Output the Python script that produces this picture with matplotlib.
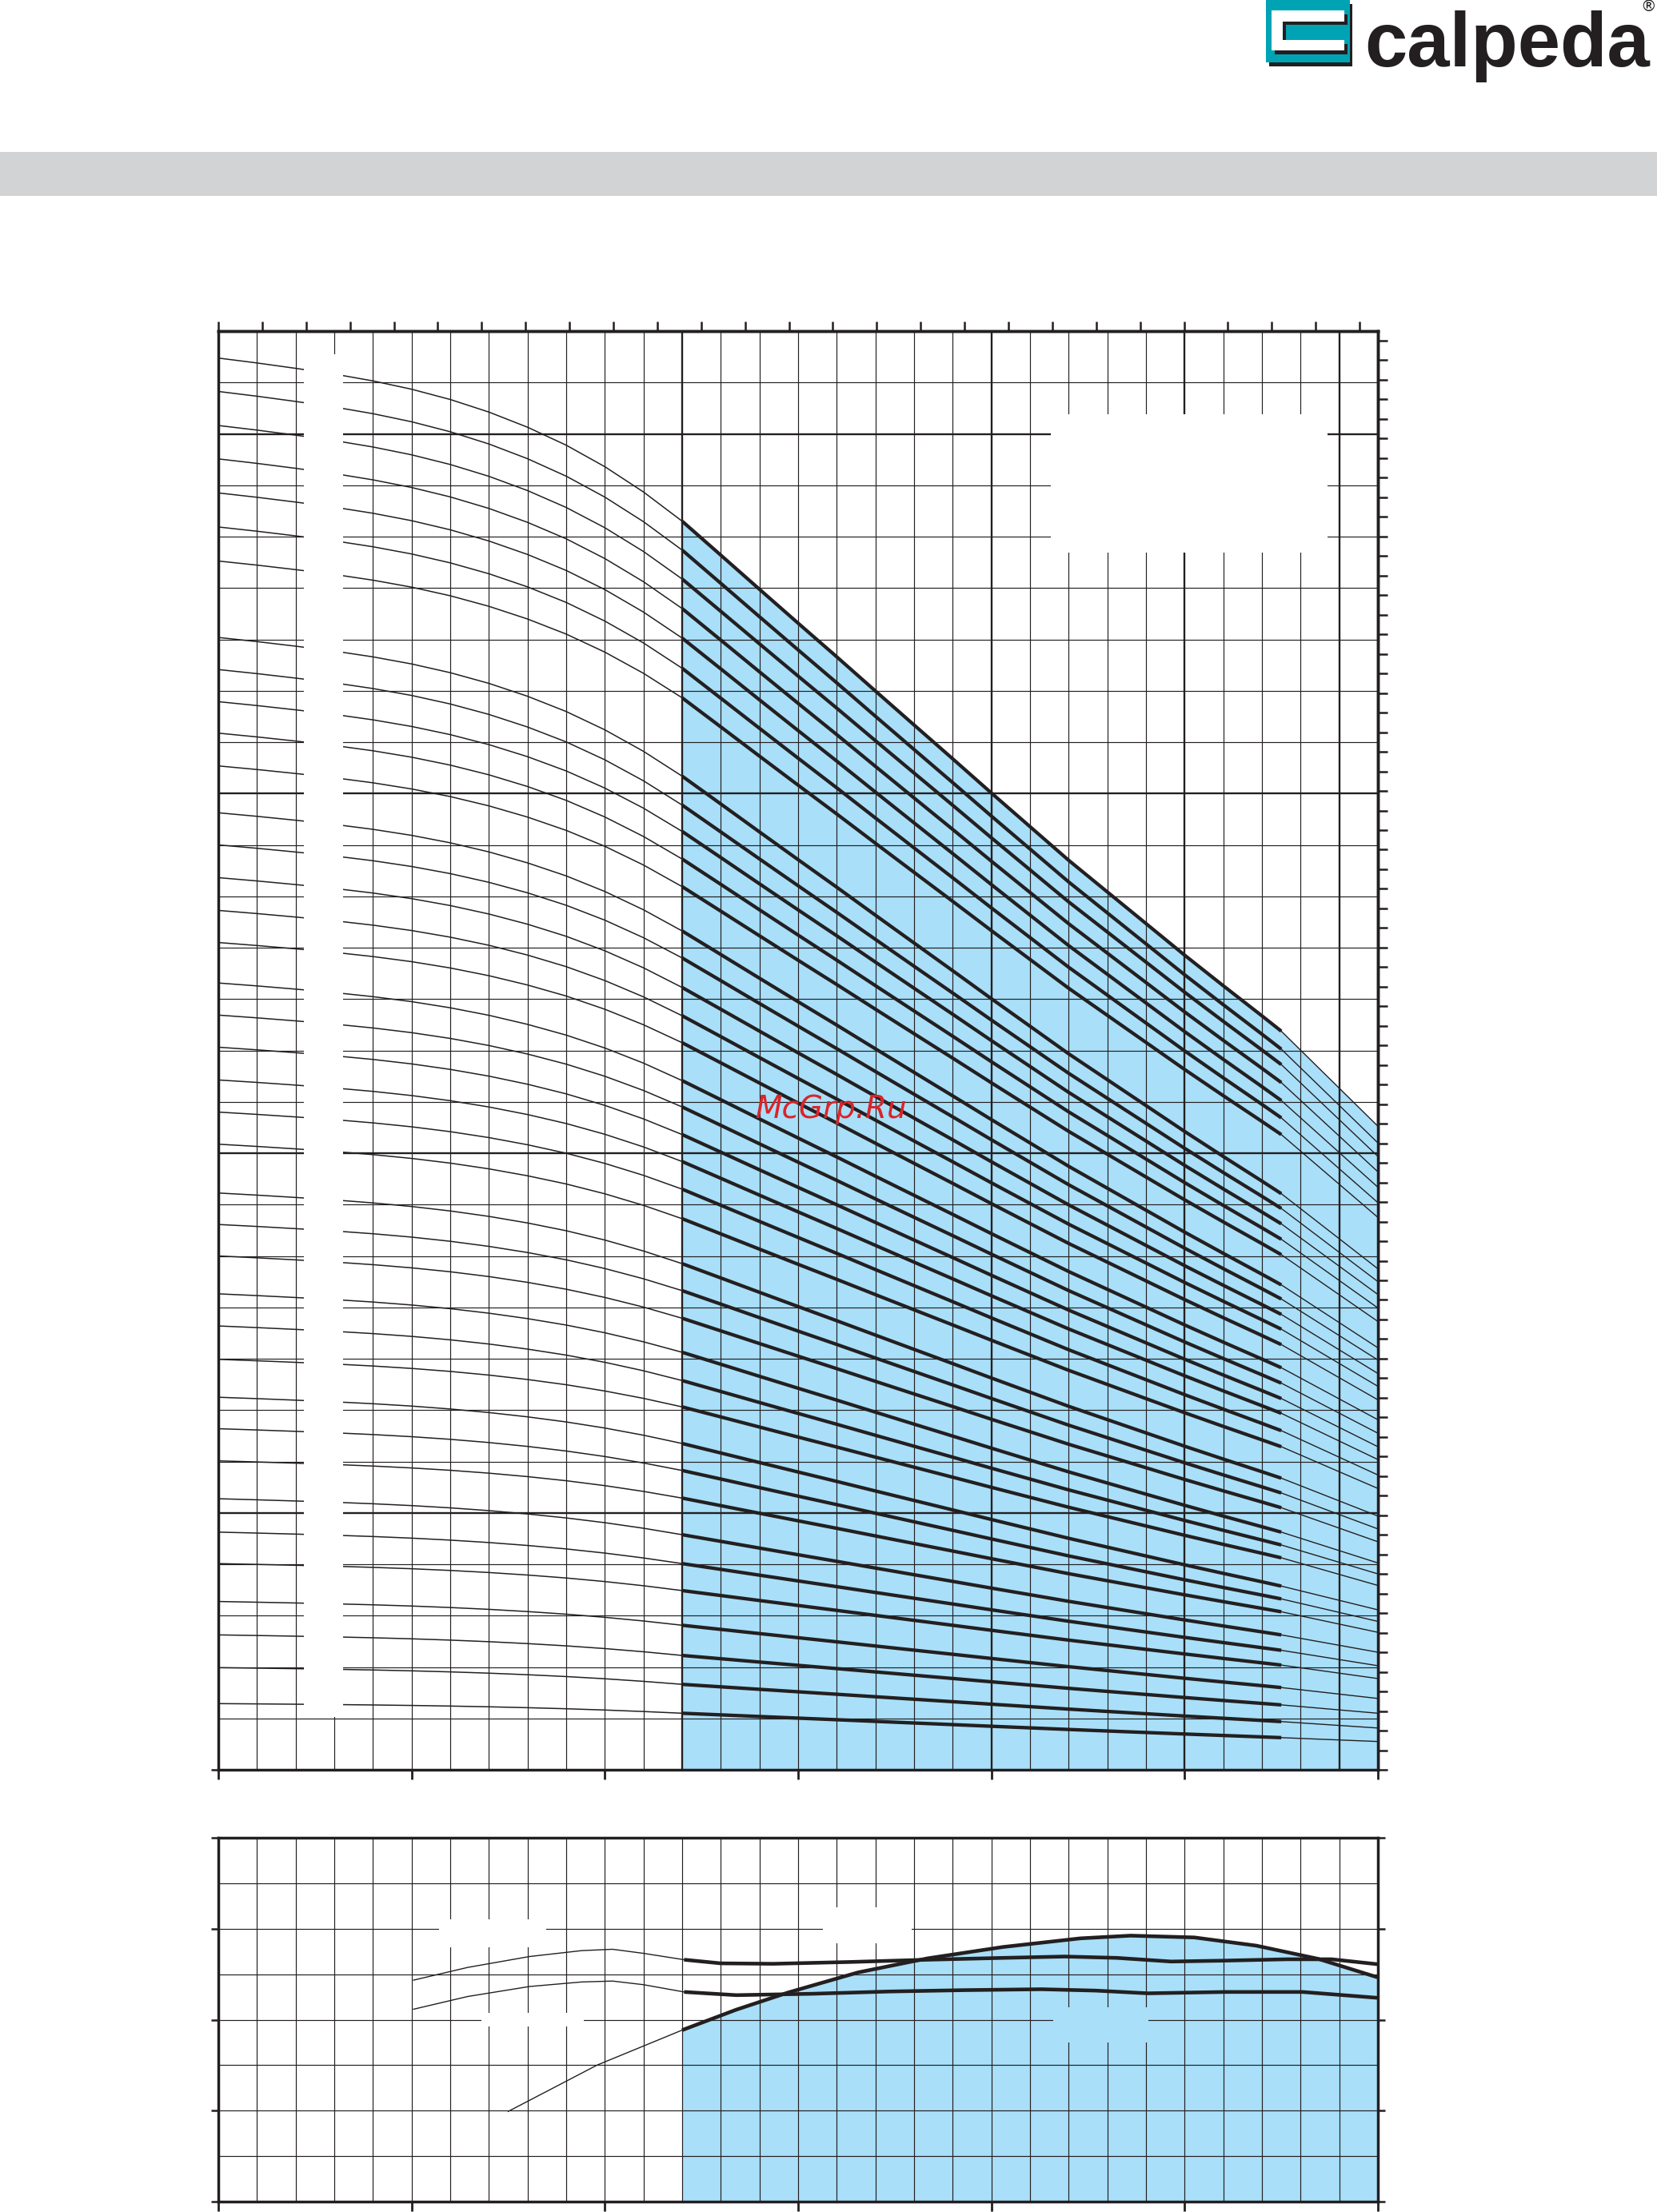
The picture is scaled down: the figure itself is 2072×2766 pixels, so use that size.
import numpy as np
import matplotlib
matplotlib.use("Agg")
import matplotlib.pyplot as plt
from matplotlib.patches import Rectangle, Polygon
from matplotlib import font_manager

# --- Colori ---
INK = "#231f20"
BLUE = "#a9dff8"
GRAY = "#d2d3d5"
TEAL = "#00a3b4"
RED = "#dc2328"

# --- Curve H-Q (portata m3/h, prevalenza m) ---
# forma normalizzata del tratto sinistro (da H a Q=0 fino a H a Q=2.4)
Q_LEFT = [0.0, 0.2, 0.4, 0.6, 0.8, 1.0, 1.2, 1.4, 1.6, 1.8, 2.0, 2.2, 2.4]
F_LEFT = [0.0, 0.030, 0.063, 0.098, 0.140, 0.191, 0.254, 0.331, 0.424, 0.534, 0.666, 0.821, 1.0]
# forma normalizzata del tratto di lavoro (da Q=2.4 a Q=5.5)
Q_MID = [2.4, 2.6, 2.8, 3.0, 3.2, 3.4, 3.6, 3.8, 4.0, 4.2, 4.4, 4.6, 4.8, 5.0, 5.2, 5.4, 5.5]
F_MID = [0.0, 0.0666, 0.1335, 0.2, 0.266, 0.333, 0.3996, 0.466, 0.533, 0.599, 0.665,
         0.727, 0.789, 0.851, 0.911, 0.970, 1.0]
Q_TAIL = [5.5, 6.0]

# prevalenza di ogni curva a Q = 0, 2.4, 5.5, 6.0
H_Q0 = [219.8, 214.6, 209.3, 204.1, 198.8, 193.5, 188.2,
        176.3, 171.3, 166.3, 161.4, 156.3,
        149.0, 144.0, 138.9, 133.8, 128.8,
        122.5, 117.5, 112.5, 107.4, 102.4, 97.4,
        89.8, 84.9, 80.0,
        74.1, 69.1, 63.9,
        58.0, 53.1, 48.1,
        42.2, 37.0, 32.1,
        26.2, 21.0, 15.9, 10.3]
H_Q24 = [194.4, 189.9, 185.4, 180.8, 176.2, 171.5, 166.9,
         154.7, 150.2, 146.1, 141.8, 137.5,
         130.6, 126.4, 121.8, 117.4, 113.2,
         107.3, 103.2, 98.9, 94.7, 90.4, 85.8,
         78.8, 74.6, 70.3,
         65.0, 60.6, 56.5,
         50.8, 46.6, 42.3,
         36.6, 32.1, 27.9,
         22.5, 17.8, 13.3, 8.8]
H_Q55 = [115.0, 112.2, 109.8, 107.0, 104.2, 101.5, 98.9,
         89.7, 87.4, 85.0, 82.6, 80.2,
         75.5, 73.3, 70.9, 68.6, 66.2,
         62.6, 60.2, 57.8, 55.5, 52.8, 50.3,
         45.4, 43.1, 40.8,
         37.0, 35.0, 33.0,
         28.6, 26.6, 24.6,
         21.0, 18.6, 16.3,
         12.8, 10.1, 7.5, 5.0]
H_Q60 = [100.2, 97.6, 95.5, 93.1, 90.7, 88.3, 86.0,
         78.0, 76.0, 74.0, 71.9, 69.8,
         65.7, 63.8, 61.7, 59.7, 57.6,
         54.5, 52.4, 50.3, 48.3, 45.9, 43.8,
         39.5, 37.5, 35.5,
         32.2, 30.5, 28.7,
         24.9, 23.1, 21.4,
         18.3, 16.2, 14.2,
         11.1, 8.8, 6.5, 4.4]

# --- Curve inferiori (rendimento e potenza, scala 0-80) ---
ETA_Q = [1.5, 1.96, 2.4, 2.68, 2.95, 3.31, 3.67, 4.06, 4.46, 4.72, 5.05, 5.37, 5.69, 6.0]
ETA = [19.8, 30.0, 37.7, 42.2, 46.0, 50.4, 53.5, 56.0, 57.9, 58.5, 58.1, 56.3, 53.4, 49.3]
P1_Q = [1.01, 1.29, 1.61, 1.88, 2.04, 2.2, 2.41, 2.6, 2.87, 3.27, 3.67, 4.06, 4.38, 4.65,
        4.93, 5.21, 5.53, 5.76, 6.0]
P1 = [48.7, 51.5, 53.9, 55.2, 55.5, 54.6, 53.2, 52.4, 52.3, 52.7, 53.2, 53.6, 53.9, 53.6,
      52.8, 53.0, 53.3, 53.3, 52.2]
P2_Q = [1.01, 1.29, 1.61, 1.88, 2.04, 2.2, 2.41, 2.68, 3.07, 3.47, 3.86, 4.26, 4.54, 4.81,
        5.21, 5.61, 6.0]
P2 = [42.3, 45.1, 47.3, 48.3, 48.5, 47.7, 46.1, 45.4, 45.7, 46.2, 46.5, 46.7, 46.4, 45.8,
      46.1, 46.1, 44.8]

W, H = 2072, 2766
fig = plt.figure(figsize=(W / 100, H / 100), dpi=100)
fig.patch.set_facecolor("white")

# --- fondo: banda grigia e logo (coordinate in pixel) ---
ov = fig.add_axes([0, 0, 1, 1], zorder=-1)
ov.set_xlim(0, W)
ov.set_ylim(H, 0)
ov.axis("off")
ov.add_patch(Rectangle((0, 190.4), W, 54.7, fc=GRAY, ec="none"))
ov.add_patch(Rectangle((1587, 4.5), 104, 78.5, fc=INK, ec="none"))
ov.add_patch(Rectangle((1583, 0), 105, 78, fc=TEAL, ec="none"))
c_shape = [(1590, 13.3), (1680.7, 13.3), (1680.7, 26.7), (1604.3, 26.7),
           (1604.3, 50), (1680.7, 50), (1680.7, 63.3), (1590, 63.3)]
ov.add_patch(Polygon([(x + 4, y + 4.5) for x, y in c_shape], closed=True, fc=INK, ec="none"))
ov.add_patch(Polygon(c_shape, closed=True, fc="white", ec="none"))
try:
    font_manager.findfont("Liberation Sans Narrow", fallback_to_default=False)
    logo_font, logo_size = "Liberation Sans Narrow", 80
except ValueError:
    logo_font, logo_size = "Liberation Sans", 69
ov.text(1706, 82.7, "calpeda", family=logo_font, fontsize=logo_size, weight="bold",
        color=INK, ha="left", va="baseline")
ov.text(2061, 8, "\u00ae", family="DejaVu Sans", fontsize=14, color=INK,
        ha="center", va="center")


def style_spines(a):
    for s in a.spines.values():
        s.set_linewidth(2.5)
        s.set_color(INK)
        s.set_zorder(10)


# --- grafico principale H-Q ---
ax = fig.add_axes([273 / W, 1 - 2213 / H, 1450 / W, 1799 / H])
ax.set_xlim(0, 6)
ax.set_ylim(0, 224)

for k in range(1, 30):
    thick = k in (12, 20, 25, 29)
    ax.axvline(0.2 * k, color=INK, lw=1.7 if thick else 0.85, zorder=2)
for j in range(1, 28):
    thick = j in (5, 12, 19, 26)
    ax.axhline(8 * j, color=INK, lw=1.7 if thick else 0.85, zorder=2)

f_left = np.array(F_LEFT)
f_mid = np.array(F_MID)
top_mid = H_Q24[0] + (H_Q55[0] - H_Q24[0]) * f_mid
ax.fill_between(Q_MID + [6.0], 0, list(top_mid) + [H_Q60[0]], color=BLUE, lw=0, zorder=1)

for h0, h24, h55, h60 in zip(H_Q0, H_Q24, H_Q55, H_Q60):
    left = h0 + (h24 - h0) * f_left
    mid = h24 + (h55 - h24) * f_mid
    ax.plot(Q_LEFT, left, color=INK, lw=1.1, zorder=3)
    ax.plot(Q_MID, mid, color=INK, lw=3.1, zorder=3, solid_capstyle="butt")
    ax.plot(Q_TAIL, [h55, h60], color=INK, lw=1.0, zorder=3)

# zone bianche (etichette rimosse)
ax.add_patch(Rectangle((0.4407, 8.16), 0.2033, 212.2, fc="white", ec="none", zorder=4))
ax.add_patch(Rectangle((4.308, 189.5), 1.432, 21.5, fc="white", ec="none", zorder=4))

style_spines(ax)
ax.set_xticks(range(7))
ax.set_yticks([0])
ax.tick_params(axis="x", direction="out", length=8.6, width=2.0, color=INK,
               labelbottom=False, top=False)
ax.tick_params(axis="y", direction="out", length=6.5, width=1.8, color=INK,
               labelleft=False, right=False)

secx = ax.secondary_xaxis("top", functions=(lambda q: q / 0.2271247, lambda g: g * 0.2271247))
secx.set_xticks(range(27))
secx.tick_params(direction="out", length=9, width=1.8, color=INK, labeltop=False)
secx.spines["top"].set_linewidth(2.5)

secy = ax.secondary_yaxis("right", functions=(lambda m: m / 0.3048, lambda f: f * 0.3048))
secy.set_yticks(np.arange(0, 735, 10))
secy.tick_params(direction="out", length=8.6, width=1.8, color=INK, labelright=False)
secy.spines["right"].set_linewidth(2.5)

# --- grafico inferiore rendimento / potenza ---
ax2 = fig.add_axes([273 / W, 1 - 2752.7 / H, 1450 / W, 454.4 / H])
ax2.set_xlim(0, 6)
ax2.set_ylim(0, 80)
for k in range(1, 30):
    ax2.axvline(0.2 * k, color=INK, lw=0.85, zorder=2)
for j in range(1, 8):
    ax2.axhline(10 * j, color=INK, lw=0.85, zorder=2)

ax2.fill_between(ETA_Q[2:], 0, ETA[2:], color=BLUE, lw=0, zorder=1)
for qs, vs in ((ETA_Q, ETA), (P1_Q, P1), (P2_Q, P2)):
    n = next(i for i, q in enumerate(qs) if q >= 2.4)
    ax2.plot(qs[:n + 1], vs[:n + 1], color=INK, lw=1.0, zorder=3)
    ax2.plot(qs[n:], vs[n:], color=INK, lw=3.3, zorder=3, solid_capstyle="butt",
             solid_joinstyle="round")

# riquadri senza griglia (etichette rimosse): bianchi fuori, azzurri dentro la zona colorata
for x0, x1, y0, y1, fc in ((1.142, 1.698, 55.9, 62.1, "white"),
                           (3.13, 3.586, 56.8, 64.7, "white"),
                           (1.36, 1.892, 38.5, 41.5, "white"),
                           (4.32, 4.814, 35.0, 42.7, BLUE)):
    ax2.add_patch(Rectangle((x0, y0), x1 - x0, y1 - y0, fc=fc, ec="none", zorder=2.5))

style_spines(ax2)
ax2.set_xticks(range(7))
ax2.set_yticks([0, 20, 40, 60, 80])
ax2.tick_params(axis="x", direction="out", length=8.6, width=2.0, color=INK,
                labelbottom=False, top=False)
ax2.tick_params(axis="y", direction="out", length=6.5, width=1.8, color=INK,
                labelleft=False, left=True, right=True)

# filigrana
fig.text(945 / W, 1 - 1398 / H, "McGrp.Ru", family="DejaVu Sans", style="italic",
         fontsize=28, color=RED, ha="left", va="baseline")

fig.savefig("out.png", dpi=100)
